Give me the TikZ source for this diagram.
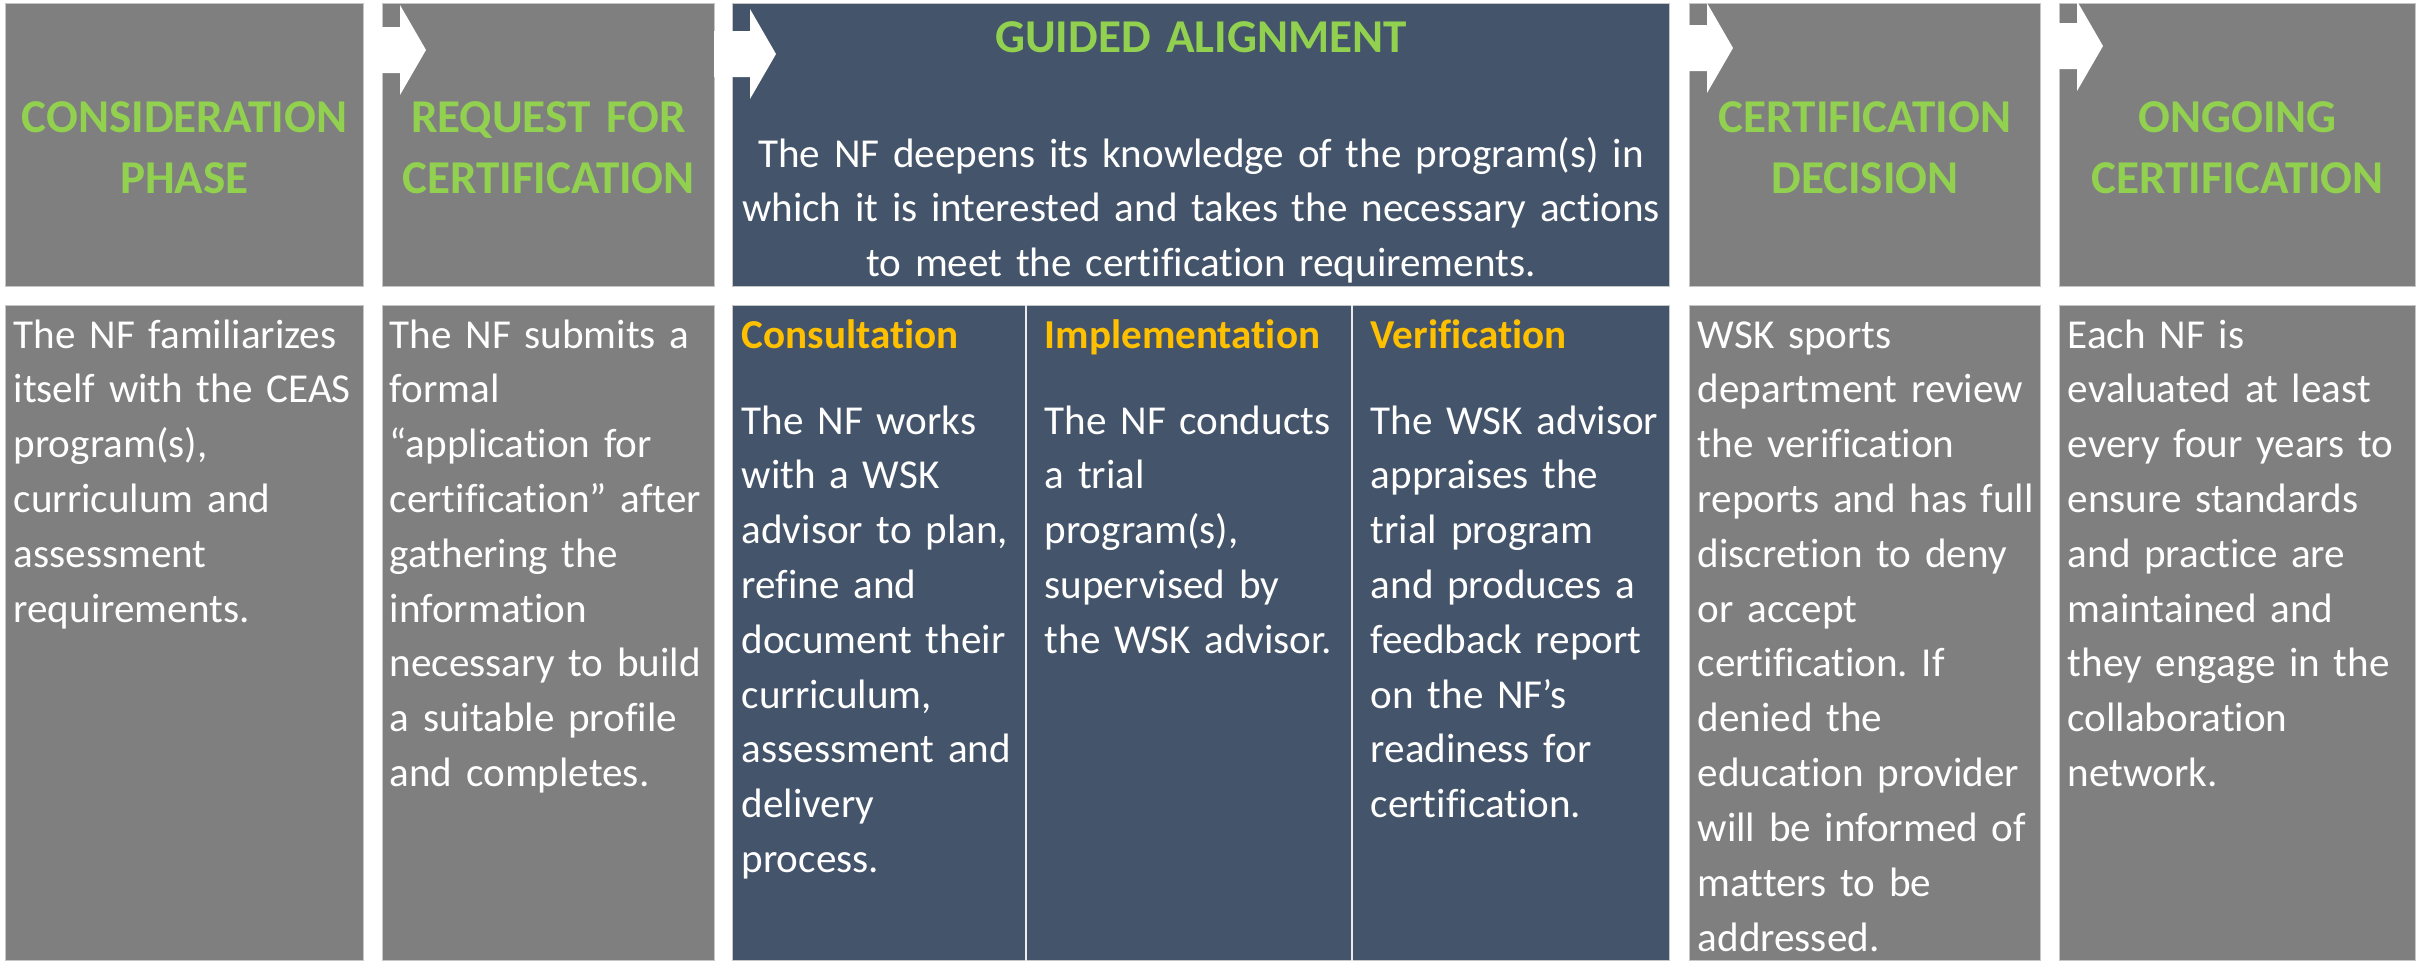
\documentclass[tikz,border=0pt]{standalone}
\usepackage{fontspec}
\setmainfont{Carlito}[Ligatures=NoCommon]
\usepackage{xcolor}
\usepackage{tikz}
\usetikzlibrary{calc}
\frenchspacing

\definecolor{phasegray}{HTML}{7F7F7F}
\definecolor{slate}{HTML}{44546A}
\definecolor{leafgreen}{HTML}{92D050}
\definecolor{amber}{HTML}{FFC000}

\begin{document}
\begin{tikzpicture}[x=0.1mm,y=-0.1mm,
  grey box/.style={anchor=north west,inner sep=0,draw=gray!45,line width=0.1mm,
    fill=phasegray},
  slate box/.style={grey box,fill=slate},
  head text/.style={anchor=base,text width=#1,align=center,inner sep=0,
    text=leafgreen,font=\fontsize{13.4}{17.4}\selectfont\bfseries},
  lead text/.style={anchor=base,text width=#1,align=center,inner sep=0,
    text=white,font=\fontsize{11.7}{15.6}\selectfont},
  body text/.style={anchor=base west,text width=#1,align=left,inner sep=0,
    text=white,font=\fontsize{11.7}{15.6}\selectfont},
  sub head/.style={anchor=base west,inner sep=0,text=amber,
    font=\fontsize{11.7}{15.6}\selectfont\bfseries},
  rule line/.style={draw=white!85!gray,line width=0.2mm}]

  \path[use as bounding box,fill=white] (0,0) rectangle (2423,960);

  % top row
  \node[grey box,minimum width=35.8mm,minimum height=28.3mm] (cons) at (5,3) {};
  \node[grey box,minimum width=33.2mm,minimum height=28.3mm] (req) at (382,3) {};
  \node[slate box,minimum width=93.7mm,minimum height=28.3mm] (align) at (732,3) {};
  \node[grey box,minimum width=35.1mm,minimum height=28.3mm] (decide) at (1689,3) {};
  \node[grey box,minimum width=35.6mm,minimum height=28.3mm] (ongo) at (2059,3) {};

  % bottom row
  \node[grey box,minimum width=35.8mm,minimum height=65.5mm] (consT) at (5,305) {};
  \node[grey box,minimum width=33.2mm,minimum height=65.5mm] (reqT) at (382,305) {};
  \node[slate box,minimum width=29.4mm,minimum height=65.5mm] (cnslt) at (732,305) {};
  \node[slate box,minimum width=32.6mm,minimum height=65.5mm] (impl) at (1026,305) {};
  \node[slate box,minimum width=31.7mm,minimum height=65.5mm] (verif) at (1352,305) {};
  \node[grey box,minimum width=35.1mm,minimum height=65.5mm] (decideT) at (1689,305) {};
  \node[grey box,minimum width=35.6mm,minimum height=65.5mm] (ongoT) at (2059,305) {};

  \draw[rule line] (impl.north west) -- (impl.south west);
  \draw[rule line] (verif.north west) -- (verif.south west);

  % block arrows between the phases
  \foreach \b/\t in {req/47,align/51,decide/45,ongo/43}
    \fill[white] ([shift={(-18,\t-23)}]\b.north west) -- ++(36,0) -- ++(0,-22)
      -- ++(26,45) -- ++(-26,45) -- ++(0,-22) -- ++(-36,0) -- cycle;

  % phase titles
  \node[head text=34mm] (consH) at ([shift={(0,129)}]cons.north) {CONSIDERATION\\PHASE};
  \node[head text=32mm] (reqH) at ([shift={(0,129)}]req.north) {REQUEST FOR\\CERTIFICATION};
  \node[head text=90mm] (alignH) at ([shift={(0,49)}]align.north) {GUIDED ALIGNMENT};
  \node[head text=34mm] (decideH) at ([shift={(0,129)}]decide.north) {CERTIFICATION\\DECISION};
  \node[head text=34mm] (ongoH) at ([shift={(0,129)}]ongo.north) {ONGOING\\CERTIFICATION};

  \node[lead text=92mm] (alignL) at ([shift={(0,164)}]align.north)
    {The NF deepens its knowledge of the program(s) in\\
     which it is interested and takes the necessary actions\\
     to meet the certification requirements.};

  % descriptions
  \node[body text=34mm] (consB) at ([shift={(8,43)}]consT.north west)
    {The NF familiarizes\\itself with the CEAS\\program(s),\\curriculum and\\assessment\\requirements.};
  \node[body text=32mm] (reqB) at ([shift={(7,43)}]reqT.north west)
    {The NF submits a\\formal\\“application for\\certification” after\\gathering the\\information\\necessary to build\\a suitable profile\\and completes.};

  \node[sub head] (cnsltH) at ([shift={(9,43)}]cnslt.north west) {Consultation};
  \node[sub head] (implH) at ([shift={(18,43)}]impl.north west) {Implementation};
  \node[sub head] (verifH) at ([shift={(18,43)}]verif.north west) {Verification};

  \node[body text=30mm] (cnsltB) at ([shift={(9,129)}]cnslt.north west)
    {The NF works\\with a WSK\\advisor to plan,\\refine and\\document their\\curriculum,\\assessment and\\delivery\\process.};
  \node[body text=30mm] (implB) at ([shift={(18,129)}]impl.north west)
    {The NF conducts\\a trial\\program(s),\\supervised by\\the WSK advisor.};
  \node[body text=30mm] (verifB) at ([shift={(18,129)}]verif.north west)
    {The WSK advisor\\appraises the\\trial program\\and produces a\\feedback report\\on the NF’s\\readiness for\\certification.};

  \node[body text=34mm] (decideB) at ([shift={(8,43)}]decideT.north west)
    {WSK sports\\department review\\the verification\\reports and has full\\discretion to deny\\or accept\\certification. If\\denied the\\education provider\\will be informed of\\matters to be\\addressed.};
  \node[body text=34mm] (ongoB) at ([shift={(8,43)}]ongoT.north west)
    {Each NF is\\evaluated at least\\every four years to\\ensure standards\\and practice are\\maintained and\\they engage in the\\collaboration\\network.};
\end{tikzpicture}
\end{document}
